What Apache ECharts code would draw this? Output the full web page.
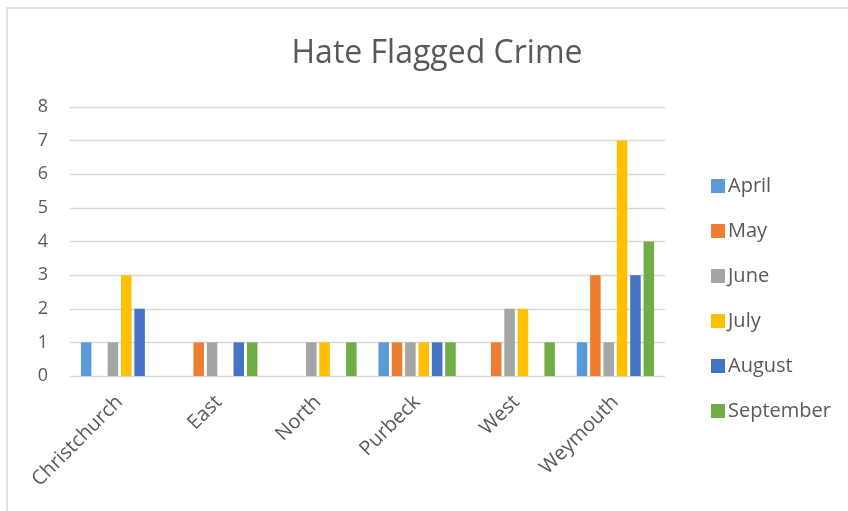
<!DOCTYPE html>
<html>
<head>
<meta charset="utf-8">
<script src="https://cdn.jsdelivr.net/npm/echarts@6/dist/echarts.min.js"></script>
<style>
  html, body { margin: 0; padding: 0; background: #fff; }
  #chart { width: 848px; height: 511px; }
</style>
</head>
<body>
<div id="chart"></div>
<script>
// Hate flagged crime counts by area and month
const areas = ['Christchurch', 'East', 'North', 'Purbeck', 'West', 'Weymouth'];
const months = ['April', 'May', 'June', 'July', 'August', 'September'];
const april = [1, 0, 0, 1, 0, 1];
const may = [0, 1, 0, 1, 1, 3];
const june = [1, 1, 1, 1, 2, 1];
const july = [3, 0, 1, 1, 2, 7];
const august = [2, 1, 0, 1, 0, 3];
const september = [0, 1, 1, 1, 1, 4];
const yTicks = [0, 1, 2, 3, 4, 5, 6, 7, 8];

const seriesValues = [april, may, june, july, august, september];
const colors = ['#5b9bd5', '#ed7d31', '#a5a5a5', '#ffc000', '#4472c4', '#70ad47'];
const font = 'Open Sans';
const textColor = '#595959';

const chart = echarts.init(document.getElementById('chart'), null, { renderer: 'canvas' });
chart.setOption({
  animation: false,
  color: colors,
  title: {
    text: 'Hate Flagged Crime',
    left: 432,
    textAlign: 'center',
    top: 33,
    textStyle: { fontFamily: font, fontSize: 32, fontWeight: 'normal', color: textColor }
  },
  legend: {
    orient: 'vertical',
    left: 706,
    top: 171,
    itemWidth: 14,
    itemHeight: 14,
    itemGap: 25,
    icon: 'rect',
    textStyle: { fontFamily: font, fontSize: 20, color: textColor, padding: [0, 0, 0, -2] },
    data: months
  },
  grid: { left: 70, right: 183, top: 107, bottom: 135 },
  xAxis: {
    type: 'category',
    data: areas,
    axisTick: { show: false },
    axisLine: { show: false },
    axisLabel: { rotate: 45, margin: 23, fontFamily: font, fontSize: 20, color: textColor, interval: 0 }
  },
  yAxis: {
    type: 'value',
    min: yTicks[0],
    max: yTicks[yTicks.length - 1],
    interval: 1,
    axisLine: { show: false },
    axisTick: { show: false },
    axisLabel: { margin: 22, fontFamily: font, fontSize: 18, color: textColor },
    splitLine: { lineStyle: { color: '#d9d9d9', width: 1.3 } }
  },
  graphic: [{
    type: 'rect',
    shape: { x: 7, y: 8, width: 900, height: 600 },
    style: { fill: 'none', stroke: '#d9d9d9', lineWidth: 1.5 },
    silent: true
  }],
  series: months.map((m, i) => ({
    name: m,
    type: 'bar',
    data: seriesValues[i],
    barGap: '27%',
    barCategoryGap: '22%'
  }))
});
</script>
</body>
</html>
